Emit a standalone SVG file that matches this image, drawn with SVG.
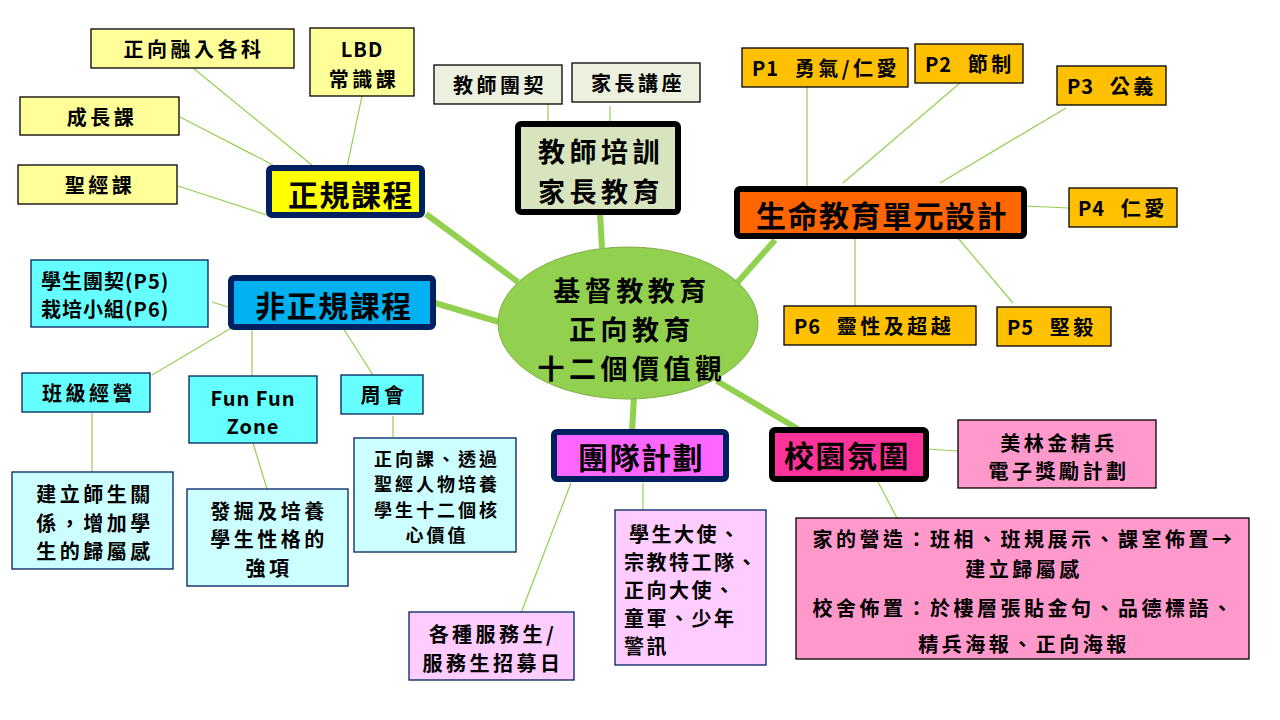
<svg xmlns="http://www.w3.org/2000/svg" width="1280" height="720" viewBox="0 0 1280 720">
<style>
text{font-family:"Noto Sans CJK TC","Noto Sans CJK SC",sans-serif;fill:#000;dominant-baseline:central}
.t{font-size:30px;font-weight:700;letter-spacing:1.5px;text-anchor:middle}
.tm{font-size:27px;font-weight:700;letter-spacing:4.5px;text-anchor:middle}
.l{font-size:20px;font-weight:700;letter-spacing:3.5px;text-anchor:middle}
.s{font-size:18px;font-weight:700;letter-spacing:3px;text-anchor:middle}
.st{text-anchor:start}
.lat{letter-spacing:1px}
.thick{stroke:#92D050;stroke-width:6;fill:none}
.thin{stroke:#92D050;stroke-width:1.2;fill:none}
.yb{fill:#FFFF99;stroke:#000;stroke-width:1.3}
.gb{fill:#EBF1DE;stroke:#000;stroke-width:1.3}
.ob{fill:#FFC000;stroke:#000;stroke-width:1.3}
.cb{fill:#66FFFF;stroke:#002060;stroke-width:1.3}
.lcb{fill:#CCFFFF;stroke:#002060;stroke-width:1.3}
.pb{fill:#FFCCFF;stroke:#002060;stroke-width:1.3}
.rb{fill:#FF99CC;stroke:#000;stroke-width:1.3}
.tn{stroke:#002060;stroke-width:6}
.tk{stroke:#000;stroke-width:6}
</style>
<rect width="1280" height="720" fill="#fff"/>
<g id="connectors">
<line class="thick" x1="426" y1="214" x2="518" y2="282"/>
<line class="thick" x1="600" y1="213" x2="602" y2="248"/>
<line class="thick" x1="775" y1="240" x2="737" y2="283"/>
<line class="thick" x1="435" y1="303" x2="499" y2="322"/>
<line class="thick" x1="634" y1="397" x2="632" y2="431"/>
<line class="thick" x1="717" y1="381" x2="798" y2="429"/>
<line class="thin" x1="193" y1="68" x2="313" y2="166"/>
<line class="thin" x1="362" y1="96" x2="347" y2="167"/>
<line class="thin" x1="180" y1="117" x2="273" y2="165"/>
<line class="thin" x1="178" y1="186" x2="273" y2="217"/>
<line class="thin" x1="548" y1="104" x2="548" y2="121"/>
<line class="thin" x1="610" y1="106" x2="610" y2="121"/>
<line class="thin" x1="807" y1="87" x2="807" y2="187"/>
<line class="thin" x1="960" y1="83" x2="843" y2="183"/>
<line class="thin" x1="1066" y1="108" x2="940" y2="183"/>
<line class="thin" x1="1024" y1="206" x2="1069" y2="208"/>
<line class="thin" x1="855" y1="239" x2="855" y2="306"/>
<line class="thin" x1="957" y1="237" x2="1013" y2="303"/>
<line class="thin" x1="212" y1="302" x2="228" y2="307"/>
<line class="thin" x1="152" y1="375" x2="233" y2="327"/>
<line class="thin" x1="252" y1="324" x2="252" y2="376"/>
<line class="thin" x1="343" y1="328" x2="373" y2="375"/>
<line class="thin" x1="92" y1="412" x2="92" y2="472"/>
<line class="thin" x1="253" y1="443" x2="267" y2="489"/>
<line class="thin" x1="393" y1="416" x2="393" y2="437"/>
<line class="thin" x1="571" y1="483" x2="521" y2="613"/>
<line class="thin" x1="643" y1="483" x2="643" y2="511"/>
<line class="thin" x1="926" y1="449" x2="958" y2="451"/>
<line class="thin" x1="877" y1="480" x2="897" y2="518"/>
</g>

<g id="center">
<ellipse cx="628" cy="323" rx="130" ry="76" fill="#92D050" stroke="#7FAF45" stroke-width="1"/>
<text class="tm" x="632" y="289">基督教教育</text>
<text class="tm" x="632" y="328">正向教育</text>
<text class="tm" x="632" y="367">十二個價值觀</text>
</g>

<g id="zhenggui">
<rect x="269" y="168" width="153" height="47" rx="3" fill="#FFFF00" class="tn"/>
<text class="t" x="351" y="193">正規課程</text>
</g>
<g id="zhengxiang-ronru">
<rect class="yb" x="91" y="29" width="203" height="39"/>
<text class="l" x="194" y="48">正向融入各科</text>
</g>
<g id="lbd">
<rect class="yb" x="310" y="28" width="104" height="68"/>
<text class="l lat" x="362" y="48">LBD</text>
<text class="l" x="364" y="78">常識課</text>
</g>
<g id="chengzhang">
<rect class="yb" x="20" y="97" width="159" height="38"/>
<text class="l" x="102" y="116">成長課</text>
</g>
<g id="shengjing">
<rect class="yb" x="18" y="165" width="159" height="39"/>
<text class="l" x="100" y="184">聖經課</text>
</g>

<g id="peixun">
<rect x="518" y="124" width="160" height="88" rx="3" fill="#D7E4BD" class="tk"/>
<text class="tm" x="601" y="150">教師培訓</text>
<text class="tm" x="601" y="190">家長教育</text>
</g>
<g id="jiaoshi-tuanqi">
<rect class="gb" x="434" y="65" width="128" height="39"/>
<text class="l" x="500" y="84">教師團契</text>
</g>
<g id="jiazhang-jiangzuo">
<rect class="gb" x="572" y="63" width="128" height="39"/>
<text class="l" x="638" y="82">家長講座</text>
</g>

<g id="shengming">
<rect x="737" y="189" width="287" height="47" rx="3" fill="#FF6600" class="tk"/>
<text class="t" x="882" y="214">生命教育單元設計</text>
</g>
<g id="p1">
<rect class="ob" x="742" y="48" width="166" height="39"/>
<text class="l st" x="752" y="67"><tspan class="lat">P1 </tspan><tspan dx="10">勇氣/仁愛</tspan></text>
</g>
<g id="p2">
<rect class="ob" x="915" y="44" width="108" height="39"/>
<text class="l st" x="925" y="63"><tspan class="lat">P2 </tspan><tspan dx="10">節制</tspan></text>
</g>
<g id="p3">
<rect class="ob" x="1057" y="66" width="109" height="39"/>
<text class="l st" x="1067" y="85"><tspan class="lat">P3 </tspan><tspan dx="10">公義</tspan></text>
</g>
<g id="p4">
<rect class="ob" x="1069" y="188" width="108" height="39"/>
<text class="l st" x="1078" y="207"><tspan class="lat">P4 </tspan><tspan dx="10">仁愛</tspan></text>
</g>
<g id="p6">
<rect class="ob" x="784" y="306" width="192" height="39"/>
<text class="l st" x="794" y="325"><tspan class="lat">P6 </tspan><tspan dx="10">靈性及超越</tspan></text>
</g>
<g id="p5">
<rect class="ob" x="997" y="307" width="114" height="39"/>
<text class="l st" x="1007" y="326"><tspan class="lat">P5 </tspan><tspan dx="10">堅毅</tspan></text>
</g>

<g id="feizhenggui">
<rect x="231" y="278" width="202" height="49" rx="3" fill="#00B0F0" class="tn"/>
<text class="t" x="334" y="304">非正規課程</text>
</g>
<g id="xuesheng-tuanqi">
<rect class="cb" x="31" y="260" width="177" height="67"/>
<text class="l st" x="41" y="280" style="letter-spacing:1px">學生團契(P5)</text>
<text class="l st" x="41" y="308" style="letter-spacing:1px">栽培小組(P6)</text>
</g>
<g id="banji">
<rect class="cb" x="22" y="373" width="128" height="39"/>
<text class="l" x="89" y="392">班級經營</text>
</g>
<g id="funfun">
<rect class="cb" x="189" y="376" width="128" height="67"/>
<text class="l lat" x="253" y="397">Fun Fun</text>
<text class="l lat" x="253" y="425">Zone</text>
</g>
<g id="zhouhui">
<rect class="cb" x="341" y="375" width="82" height="39"/>
<text class="l" x="384" y="394">周會</text>
</g>
<g id="jianli">
<rect class="lcb" x="12" y="472" width="161" height="97"/>
<text class="l" x="95" y="493">建立師生關</text>
<text class="l" x="95" y="522">係，增加學</text>
<text class="l" x="95" y="550">生的歸屬感</text>
</g>
<g id="fajue">
<rect class="lcb" x="187" y="489" width="161" height="97"/>
<text class="l" x="269" y="510">發掘及培養</text>
<text class="l" x="269" y="538">學生性格的</text>
<text class="l" x="269" y="567">強項</text>
</g>
<g id="zhengxiangke">
<rect class="lcb" x="354" y="438" width="162" height="114"/>
<text class="s" x="437" y="458">正向課、透過</text>
<text class="s" x="437" y="483">聖經人物培養</text>
<text class="s" x="437" y="509">學生十二個核</text>
<text class="s" x="437" y="534">心價值</text>
</g>

<g id="tuandui">
<rect x="554" y="432" width="172" height="47" rx="3" fill="#FF66FF" class="tn"/>
<text class="t" x="641" y="456">團隊計劃</text>
</g>
<g id="fuwusheng">
<rect class="pb" x="409" y="612" width="165" height="68"/>
<text class="l" x="493" y="633">各種服務生/</text>
<text class="l" x="493" y="662">服務生招募日</text>
</g>
<g id="dashi">
<rect class="pb" x="615" y="510" width="151" height="155"/>
<text class="l st" x="629" y="533" style="letter-spacing:2.5px">學生大使、</text>
<text class="l st" x="624" y="561" style="letter-spacing:2.5px">宗教特工隊、</text>
<text class="l st" x="624" y="589" style="letter-spacing:2.5px">正向大使、</text>
<text class="l st" x="624" y="617" style="letter-spacing:2.5px">童軍、少年</text>
<text class="l st" x="624" y="645" style="letter-spacing:2.5px">警訊</text>
</g>

<g id="xiaoyuan">
<rect x="772" y="430" width="154" height="49" rx="3" fill="#FF3399" class="tk"/>
<text class="t" x="847" y="454">校園氛圍</text>
</g>
<g id="meilin">
<rect class="rb" x="958" y="420" width="198" height="68"/>
<text class="l" x="1059" y="442">美林金精兵</text>
<text class="l" x="1059" y="470">電子獎勵計劃</text>
</g>
<g id="jia">
<rect class="rb" x="796" y="518" width="453" height="141"/>
<text class="l" x="1024" y="538">家的營造：班相、班規展示、課室佈置→</text>
<text class="l" x="1024" y="568">建立歸屬感</text>
<text class="l" x="1024" y="607">校舍佈置：於樓層張貼金句、品德標語、</text>
<text class="l" x="1024" y="643">精兵海報、正向海報</text>
</g>
</svg>
